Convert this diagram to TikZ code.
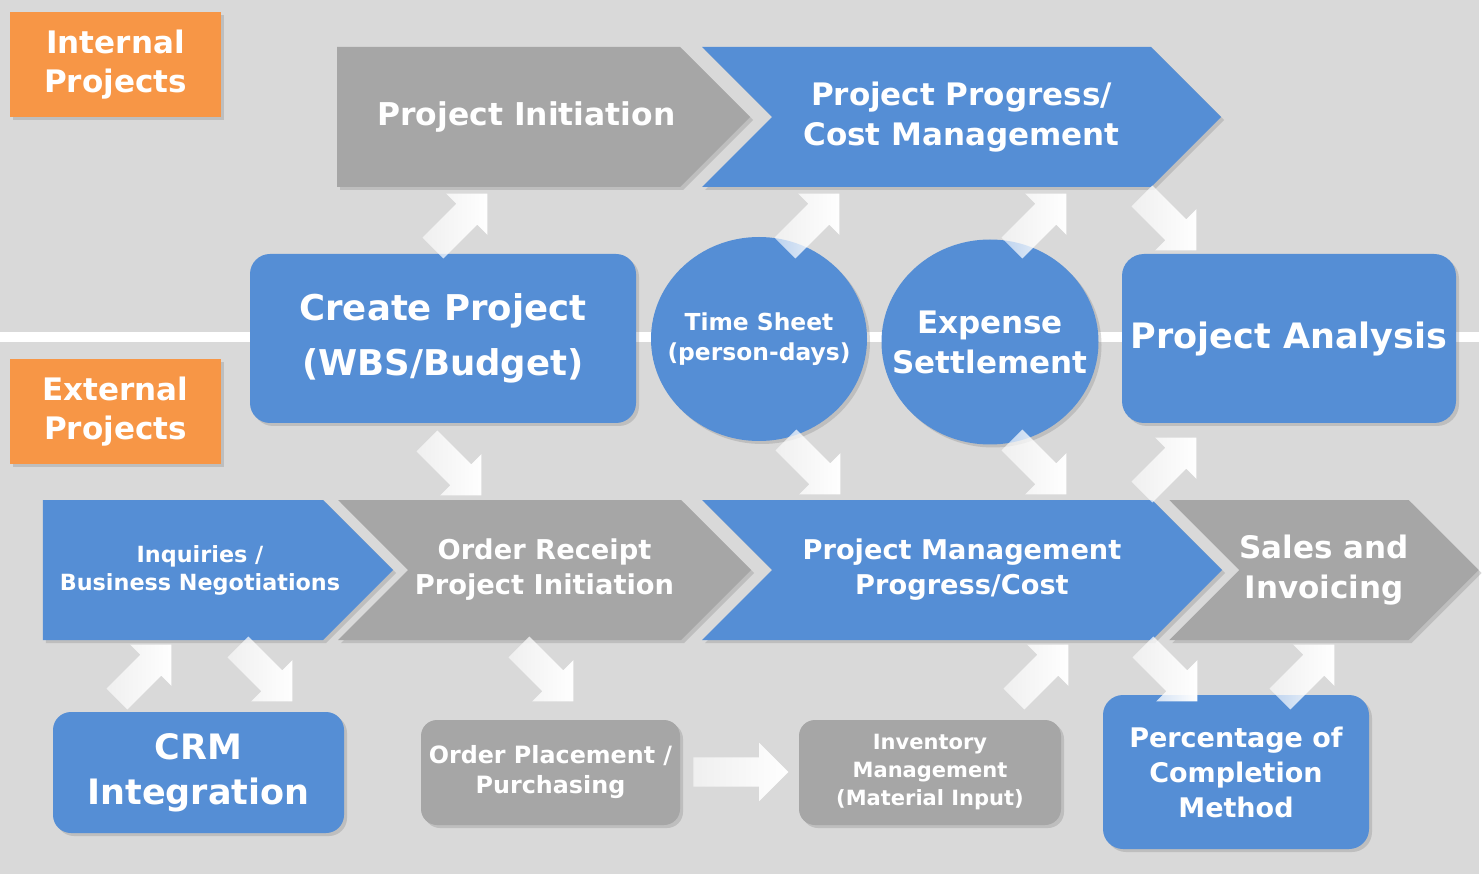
\documentclass[tikz,border=0pt]{standalone}
\usepackage{fontspec}
\setmainfont{DejaVu Sans}
\usepackage{tikz}
\usetikzlibrary{shapes.symbols}
\usetikzlibrary{shapes.arrows}
\usetikzlibrary{shapes.geometric}
\usetikzlibrary{shadows}
\usetikzlibrary{fadings}

\definecolor{boxblue}{HTML}{558ED5}
\definecolor{boxgray}{HTML}{A6A6A6}
\definecolor{boxorange}{HTML}{F79646}
\definecolor{bggray}{HTML}{D9D9D9}

\tikzfading[name=tailfade, left color=transparent!40, right color=transparent!0]

\tikzset{
  shd/.style={drop shadow={shadow xshift=3pt, shadow yshift=-3pt, opacity=0.3}},
  chev/.style={signal, signal to=east, signal pointer angle=90, minimum height=140pt, inner sep=0pt, text=white, align=center, shd},
  bluechev/.style={chev, fill=boxblue},
  graychev/.style={chev, fill=boxgray},
  rbox/.style={rectangle, rounded corners=20pt, inner sep=0pt, text=white, align=center, shd},
  bluebox/.style={rbox, fill=boxblue},
  graybox/.style={rbox, fill=boxgray, rounded corners=16pt},
  bluecirc/.style={ellipse, fill=boxblue, inner xsep=-25pt, inner ysep=0pt, text=white, align=center, shd},
  lbl/.style={rectangle, fill=boxorange, minimum width=211pt, minimum height=105pt, text=white, align=center, shd, font=\bfseries\fontsize{31}{39}\selectfont},
  flow/.style={single arrow, fill=white, path fading=tailfade, single arrow head extend=14.5pt, single arrow tip angle=90, inner xsep=0pt, inner ysep=14.5pt, minimum height=77pt}
}

\begin{document}
\begin{tikzpicture}[x=1pt, y=-1pt]

\useasboundingbox (0,0) rectangle (1484,874);
\fill[white] (0,0) rectangle (1484,874);
\fill[bggray] (0,0) rectangle (1479,874);
\fill[white] (0,332) rectangle (1479,342);

% side labels
\node at (115.5,64.5)[lbl] (internal) {Internal\\Projects};
\node at (115.5,412)[lbl] (external) {External\\Projects};

% internal flow
\node at (508.5,117)[graychev, minimum width=413pt, font=\bfseries\fontsize{31.4}{40}\selectfont] (initiation) {\hspace*{18pt}Project Initiation\hspace*{-18pt}};
\node at (961.5,117)[bluechev, signal from=west, minimum width=519pt, font=\bfseries\fontsize{31}{40}\selectfont] (progress) {Project Progress/\\Cost Management};

\node at (443,338.5)[bluebox, minimum width=386pt, minimum height=169pt, font=\bfseries\fontsize{35.5}{55}\selectfont] (create) {Create Project\\(WBS/Budget)};
\node at (759,339)[bluecirc, minimum width=216pt, minimum height=204pt, font=\bfseries\fontsize{23.4}{30}\selectfont] (timesheet) {Time Sheet\\(person-days)};
\node at (990,342)[bluecirc, minimum width=217pt, minimum height=205pt, font=\bfseries\fontsize{31}{40}\selectfont] (expense) {Expense\\Settlement};
\node at (1289,338.5)[bluebox, rounded corners=22pt, minimum width=334pt, minimum height=169pt, font=\bfseries\fontsize{35}{44}\selectfont] (analysis) {Project Analysis};

% external flow
\node at (183,570)[bluechev, minimum width=344pt, font=\bfseries\fontsize{22.3}{28}\selectfont] (inquiries) {\hspace*{17pt}Inquiries /\hspace*{-17pt}\\\hspace*{17pt}Business Negotiations\hspace*{-17pt}};
\node at (544.5,570)[graychev, signal from=west, minimum width=413pt, font=\bfseries\fontsize{27.3}{35}\selectfont] (receipt) {Order Receipt\\Project Initiation};
\node at (962,570)[bluechev, signal from=west, minimum width=520pt, font=\bfseries\fontsize{27.2}{35}\selectfont] (pmgmt) {Project Management\\Progress/Cost};
\node at (1324,570)[graychev, signal from=west, minimum width=308pt, font=\bfseries\fontsize{31}{40}\selectfont] (sales) {Sales and\\Invoicing};

\node at (198.5,772.5)[bluebox, rounded corners=18pt, minimum width=291pt, minimum height=121pt, font=\bfseries\fontsize{35}{45}\selectfont] (crm) {CRM\\Integration};
\node at (550.5,772.5)[graybox, minimum width=259pt, minimum height=105pt, font=\bfseries\fontsize{23.8}{30}\selectfont] (placement) {Order Placement /\\Purchasing};
\node at (930,772.5)[graybox, minimum width=262pt, minimum height=105pt, font=\bfseries\fontsize{21}{28}\selectfont] (inventory) {Inventory\\Management\\(Material Input)};
\node at (1236,772)[bluebox, minimum width=266pt, minimum height=154pt, font=\bfseries\fontsize{27}{35}\selectfont] (percent) {Percentage of\\Completion\\Method};

% white flow arrows
\node at (455,226)[flow, rotate=45] (up1) {};
\node at (807,226)[flow, rotate=45] (up2) {};
\node at (1034,226)[flow, rotate=45] (up3) {};
\node at (1164,218)[flow, rotate=-45] (dn1) {};
\node at (449,463)[flow, rotate=-45] (dn2) {};
\node at (808,462)[flow, rotate=-45] (dn3) {};
\node at (1034,462)[flow, rotate=-45] (dn4) {};
\node at (1164,470)[flow, rotate=45] (up4) {};
\node at (139,677)[flow, rotate=45] (up5) {};
\node at (260,669)[flow, rotate=-45] (dn5) {};
\node at (541,669)[flow, rotate=-45] (dn6) {};
\node at (733.5,772)[flow, minimum height=95pt] (rt1) {};
\node at (1036,677)[flow, rotate=45] (up6) {};
\node at (1165,669)[flow, rotate=-45] (dn7) {};
\node at (1302,677)[flow, rotate=45] (up7) {};

\end{tikzpicture}
\end{document}
